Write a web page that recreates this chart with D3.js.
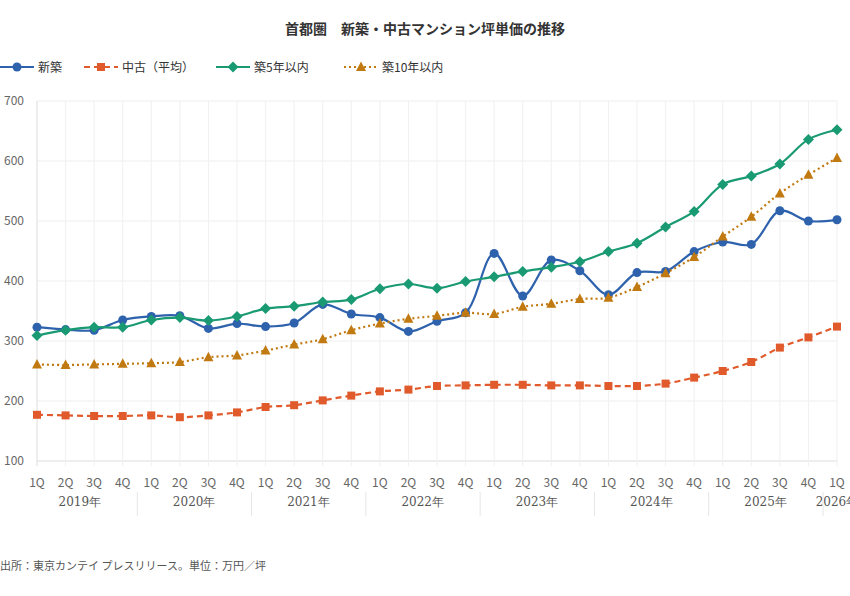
<!DOCTYPE html>
<html><head><meta charset="utf-8">
<script src="https://cdn.jsdelivr.net/npm/d3@7"></script>
<style>body{margin:0;background:#fff;font-family:"Noto Sans CJK JP","Noto Sans",sans-serif}</style>
</head><body><div id="chart"></div>
<script>
const quarters = ["1Q","2Q","3Q","4Q"];
const years = ["2019年","2020年","2021年","2022年","2023年","2024年","2025年","2026年"];
const labels = [];
years.forEach((y, i) => quarters.forEach(q => { if (i < 7 || q === "1Q") labels.push(q); }));

const newBuild = [323,319,318,335,341,342,321,329,324,330,361,345,339,316,333,347,446,375,435,417,377,414,416,449,465,461,517,500,502];
const resale = [177,176,175,175,176,173,176,181,190,193,201,209,216,219,225,226,227,227,226,226,225,225,229,239,250,265,289,306,324];
const within5 = [309,318,323,323,335,339,334,341,354,358,365,369,387,395,388,399,407,416,423,432,449,463,490,516,561,575,595,636,652];
const within10 = [261,260,261,262,263,265,273,276,284,294,303,318,329,337,342,347,345,357,362,370,372,390,413,440,474,507,546,577,605];

const series = [
  {name:"新築", values:newBuild, color:"#2e62ad", dash:null, marker:"circle", lx:0},
  {name:"中古（平均）", values:resale, color:"#e05a2b", dash:"6,4", marker:"square", lx:84},
  {name:"築5年以内", values:within5, color:"#1a9a72", dash:null, marker:"diamond", lx:216},
  {name:"築10年以内", values:within10, color:"#c17a12", dash:"2,3", marker:"triangle", lx:344}
];

const W = 850, H = 596;
const svg = d3.select("#chart").append("svg").attr("width", W).attr("height", H);
const x = d3.scaleLinear().domain([0, labels.length - 1]).range([37, 837]);
const y = d3.scaleLinear().domain([100, 700]).range([461, 101]);

// grid
svg.append("g").selectAll("line").data(y.ticks(6)).enter().append("line")
  .attr("x1", 37).attr("x2", 837).attr("y1", d => y(d)).attr("y2", d => y(d))
  .attr("stroke", d => d === 100 ? "#ddd" : "#eee");
svg.append("g").selectAll("line").data(labels).enter().append("line")
  .attr("x1", (d, i) => x(i)).attr("x2", (d, i) => x(i)).attr("y1", 101).attr("y2", 466)
  .attr("stroke", (d, i) => i === 0 ? "#ddd" : "#f0f0f0");

svg.append("g").selectAll("text").data(y.ticks(6)).enter().append("text")
  .attr("x", 24).attr("y", d => y(d) + 4).attr("text-anchor", "end")
  .attr("font-size", 12).attr("fill", "#666").text(d => d);

svg.append("g").selectAll("text").data(labels).enter().append("text")
  .attr("x", (d, i) => x(i)).attr("y", 487).attr("text-anchor", "middle")
  .attr("font-size", 12).attr("fill", "#666").text(d => d);

// year groups
years.forEach((yr, i) => {
  const s = i * 4, e = Math.min(i * 4 + 3, labels.length - 1);
  const cx = i < 7 ? (x(s) + x(e)) / 2 : x(s);
  svg.append("text").attr("x", cx).attr("y", 506).attr("text-anchor", "middle")
    .attr("font-family", "DejaVu Serif, serif").attr("font-size", 12).attr("fill", "#555").text(yr);
  if (i > 0) svg.append("line").attr("x1", x(s) - 14).attr("x2", x(s) - 14)
    .attr("y1", 492).attr("y2", 516).attr("stroke", "#e6e6e6");
});

function marker(g, type, cx, cy, color) {
  if (type === "circle") g.append("circle").attr("cx", cx).attr("cy", cy).attr("r", 4.5).attr("fill", color);
  else if (type === "square") g.append("rect").attr("x", cx - 4).attr("y", cy - 4).attr("width", 8).attr("height", 8).attr("fill", color);
  else if (type === "diamond") g.append("path").attr("d", `M${cx},${cy-5.5}L${cx+5.5},${cy}L${cx},${cy+5.5}L${cx-5.5},${cy}Z`).attr("fill", color);
  else g.append("path").attr("d", `M${cx},${cy-5.5}L${cx+5},${cy+4}L${cx-5},${cy+4}Z`).attr("fill", color);
}

const line = d3.line().x((d, i) => x(i)).y(d => y(d)).curve(d3.curveCatmullRom.alpha(0.5));
series.forEach(s => {
  const g = svg.append("g");
  g.append("path").attr("d", line(s.values)).attr("fill", "none")
    .attr("stroke", s.color).attr("stroke-width", 2.2).attr("stroke-dasharray", s.dash);
  s.values.forEach((v, i) => marker(g, s.marker, x(i), y(v), s.color));
  // legend
  const lg = svg.append("g");
  lg.append("line").attr("x1", s.lx).attr("x2", s.lx + 34).attr("y1", 67).attr("y2", 67)
    .attr("stroke", s.color).attr("stroke-width", 2.2).attr("stroke-dasharray", s.dash);
  marker(lg, s.marker, s.lx + 17, 67, s.color);
  lg.append("text").attr("x", s.lx + 38).attr("y", 71.5).attr("font-size", 12).attr("fill", "#333").text(s.name);
});

svg.append("text").attr("x", 425).attr("y", 34).attr("text-anchor", "middle")
  .attr("font-size", 14).attr("font-weight", "bold").attr("fill", "#333")
  .text("首都圏　新築・中古マンション坪単価の推移");
svg.append("text").attr("x", 0).attr("y", 570).attr("font-size", 11).attr("fill", "#555")
  .text("出所：東京カンテイ プレスリリース。単位：万円／坪");
</script></body></html>
